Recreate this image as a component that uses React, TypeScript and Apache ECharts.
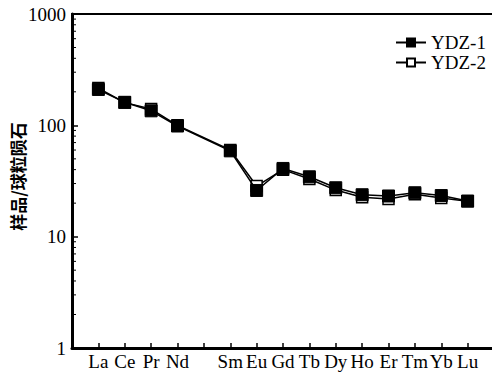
import React, { useEffect, useRef } from "react";
import * as echarts from "echarts";

// Tick labels along the x axis (Pm position left blank)
const xLabels = ["", "La", "Ce", "Pr", "Nd", "", "Sm", "Eu", "Gd", "Tb", "Dy", "Ho", "Er", "Tm", "Yb", "Lu", ""];
// Elements that carry data
const elements = ["La", "Ce", "Pr", "Nd", "Sm", "Eu", "Gd", "Tb", "Dy", "Ho", "Er", "Tm", "Yb", "Lu"];
const ydz1 = [210, 161, 135, 98.6, 59, 26, 41, 34.5, 27.5, 23.8, 23.2, 24.8, 23.4, 20.9];
const ydz2 = [216, 160, 140, 100, 60, 28.5, 40, 33, 26.2, 22.6, 21.8, 24, 22.3, 20.8];
const yTicks = [1, 10, 100, 1000];
const minorFactors = [2, 3, 4, 5, 6, 7, 8, 9];

const FONT = "Liberation Serif, serif";

export default function App() {
  const ref = useRef<HTMLDivElement>(null);
  useEffect(() => {
    if (!ref.current) return;
    const chart = echarts.init(ref.current, undefined, { renderer: "svg" });
    const toPts = (vals: number[]) => elements.map((e, i) => [xLabels.indexOf(e), vals[i]]);
    const minorData: number[][] = [];
    yTicks.slice(0, -1).forEach((d) => minorFactors.forEach((f) => minorData.push([0, d * f])));

    chart.setOption({
      animation: false,
      backgroundColor: "#fff",
      grid: {
        left: 72,
        top: 14,
        bottom: 24,
        right: -2,
        containLabel: false,
        outerBoundsMode: "none",
        show: true,
        borderColor: "#000",
        borderWidth: 2,
        backgroundColor: "transparent",
      },
      legend: {
        orient: "vertical",
        left: 390,
        top: 28,
        itemWidth: 30,
        itemHeight: 10,
        itemGap: 1,
        data: ["YDZ-1", "YDZ-2"],
        textStyle: { fontFamily: FONT, fontSize: 19, color: "#000", lineHeight: 17 },
      },
      xAxis: {
        type: "value",
        min: 0,
        max: 16,
        interval: 1,
        axisLine: { show: true, lineStyle: { color: "#000", width: 3 } },
        axisTick: { show: true, inside: true, length: 5, lineStyle: { color: "#000", width: 1.5 } },
        splitLine: { show: false },
        axisLabel: {
          color: "#000",
          fontFamily: FONT,
          fontSize: 19,
          margin: 4,
          formatter: (v: number) => xLabels[Math.round(v)] || "",
        },
      },
      yAxis: {
        type: "log",
        logBase: 10,
        min: 1,
        max: 1000,
        name: "样品/球粒陨石",
        nameLocation: "middle",
        nameRotate: 90,
        nameGap: 46,
        nameMoveOverlap: false,
        nameTextStyle: {
          fontFamily: "Noto Sans CJK SC",
          fontSize: 17,
          color: "#000",
          fontWeight: "bold",
          padding: [0, 0, 0, 9],
        },
        axisLine: { show: true, lineStyle: { color: "#000", width: 3 } },
        axisTick: { show: true, inside: true, length: 6, lineStyle: { color: "#000", width: 1.5 } },
        splitLine: { show: false },
        minorTick: { show: false },
        axisLabel: {
          color: "#000",
          fontFamily: FONT,
          fontSize: 19,
          margin: 6,
          formatter: (v: number) => String(Math.round(v)),
        },
      },
      series: [
        {
          name: "YDZ-1",
          type: "line",
          data: toPts(ydz1),
          symbol: "rect",
          symbolSize: 12,
          z: 4,
          lineStyle: { color: "#000", width: 1.5 },
          itemStyle: { color: "#000", borderColor: "#000", borderWidth: 1 },
        },
        {
          name: "YDZ-2",
          type: "line",
          data: toPts(ydz2),
          symbol: "rect",
          symbolSize: 11,
          z: 3,
          lineStyle: { color: "#000", width: 1.5 },
          itemStyle: { color: "#fff", borderColor: "#000", borderWidth: 1.5 },
        },
        {
          name: "minor",
          type: "custom",
          data: minorData,
          silent: true,
          z: 5,
          renderItem: (_params: any, api: any) => {
            const p = api.coord([api.value(0), api.value(1)]);
            return {
              type: "line",
              shape: { x1: p[0], y1: p[1], x2: p[0] + 4, y2: p[1] },
              style: { stroke: "#000", lineWidth: 1 },
            };
          },
        },
      ],
    });
    return () => chart.dispose();
  }, []);
  return (
    <div
      ref={ref}
      style={{ position: "absolute", left: 0, top: 0, width: 492, height: 372 }}
    />
  );
}
